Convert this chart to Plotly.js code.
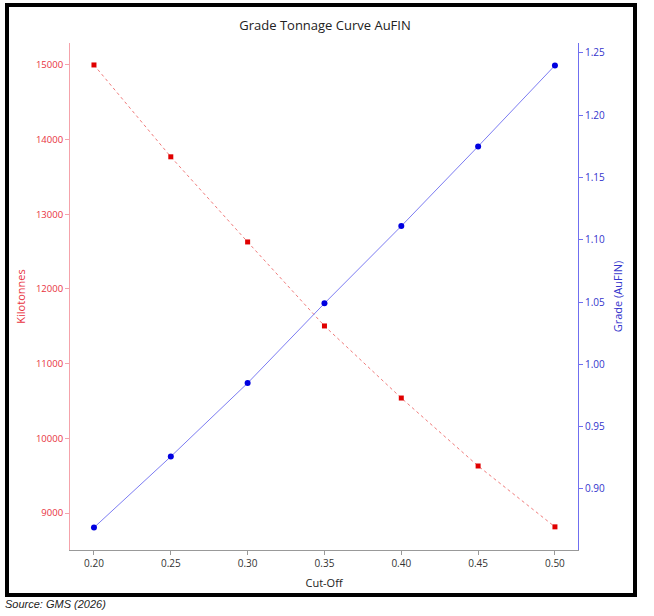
<!DOCTYPE html>
<html>
<head>
<meta charset="utf-8">
<script src="https://cdn.plot.ly/plotly-3.0.1.min.js"></script>
<style>
body{margin:0;background:#fff;}
#frame{position:absolute;left:5px;top:3px;width:624px;height:586px;border:4px solid #000;}
#graph{position:absolute;left:0;top:0;width:654px;height:616px;}
#source{position:absolute;left:5px;top:598px;font:italic 11px "Liberation Sans",Arial,sans-serif;color:#222;}
</style>
</head>
<body>
<div id="frame"></div>
<div id="graph"></div>
<div id="source">Source: GMS (2026)</div>
<script>
const cut_off = [0.20, 0.25, 0.30, 0.35, 0.40, 0.45, 0.50];
const kilotonnes = [15000, 13770, 12630, 11505, 10540, 9630, 8815];
const grade = [0.869, 0.926, 0.985, 1.049, 1.111, 1.175, 1.240];
const x_ticks = [0.20, 0.25, 0.30, 0.35, 0.40, 0.45, 0.50];

const font_family = '"Open Sans", "DejaVu Sans", sans-serif';
const red_text = '#e8323e', red_axis = '#f5a3ab';
const blue_text = '#3434cc', blue_axis = '#6f6ff0';

const graph_traces = [
    {x: cut_off, y: kilotonnes, name: "Kilotonnes", mode: "lines+markers", yaxis: "y",
        line: {color: '#f07a7a', width: 1, dash: 'dot'}, marker: {symbol: 'square', size: 5, color: '#e00000'}},
    {x: cut_off, y: grade, name: "Grade (AuFIN)", mode: "lines+markers", yaxis: "y2",
        line: {color: '#7c7cf2', width: 1}, marker: {symbol: 'circle', size: 6, color: '#0000e0'}}];

const graph_layout = {width: 654, height: 616, showlegend: false,
    paper_bgcolor: 'rgba(0,0,0,0)', plot_bgcolor: 'rgba(0,0,0,0)',
    margin: {t: 43, l: 70, r: 76, b: 66},
    font: {family: font_family, size: 10, color: '#333'},
    title: {text: "Grade Tonnage Curve AuFIN", x: 0.497, xanchor: 'center', y: 0.958, yanchor: 'middle', font: {size: 13, color: '#222'}},
    xaxis: {range: [0.1844, 0.515], tickvals: x_ticks, tickformat: '.2f', showgrid: false, zeroline: false,
        showline: true, linecolor: '#999', ticks: 'outside', ticklen: 4, tickcolor: '#999',
        tickfont: {size: 10, color: '#333'}, title: {text: "Cut-Off", standoff: 10, font: {size: 11, color: '#222'}}},
    yaxis: {range: [8505, 15294], tick0: 9000, dtick: 1000, tickformat: 'd', showgrid: false, zeroline: false,
        showline: true, linecolor: red_axis, ticks: 'outside', ticklen: 4, tickcolor: red_axis,
        tickfont: {size: 9.5, color: red_text}, title: {text: "Kilotonnes", standoff: 8, font: {size: 11, color: red_text}}},
    yaxis2: {range: [0.851, 1.258], dtick: 0.05, tickformat: '.2f', overlaying: 'y', side: 'right',
        showgrid: false, zeroline: false, showline: true, linecolor: blue_axis, ticks: 'outside', ticklen: 4, tickcolor: blue_axis,
        tickfont: {size: 10, color: blue_text}, title: {text: "Grade (AuFIN)", standoff: 10, font: {size: 11, color: blue_text}}}};

const graph_config = {displayModeBar: false, staticPlot: true};
Plotly.newPlot('graph', graph_traces, graph_layout, graph_config);
</script>
</body>
</html>
